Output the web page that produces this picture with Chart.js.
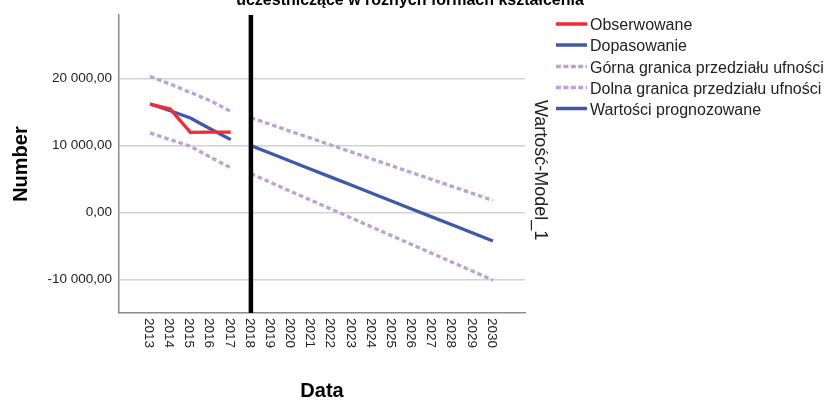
<!DOCTYPE html>
<html>
<head>
<meta charset="utf-8">
<script src="https://cdn.jsdelivr.net/npm/chart.js@4/dist/chart.umd.min.js"></script>
<style>
  html, body { margin: 0; padding: 0; background: #ffffff; }
  #wrap { width: 828px; height: 401px; position: relative; }
</style>
</head>
<body>
<div id="wrap"><canvas id="c" width="828" height="401"></canvas></div>
<script>
// ---- data ----
const fitYears = [2013, 2014, 2015, 2016, 2017];
const observed = [16200, 15450, 11980, 12000, 12000];
const fitted = [16200, 15200, 14120, 12480, 10890];
const fitUpper = [20330, 19170, 17920, 16690, 15100];
const fitLower = [11890, 10890, 9900, 8260, 6690];

const forecastYears = [2018, 2019, 2020, 2021, 2022, 2023, 2024, 2025, 2026, 2027, 2028, 2029, 2030];
const forecast = [10000, 8820, 7630, 6450, 5260, 4080, 2890, 1710, 520, -660, -1850, -3030, -4220];
const forecastUpper = [14160, 13130, 12100, 11080, 10050, 9030, 8000, 6970, 5950, 4920, 3890, 2860, 1830];
const forecastLower = [5800, 4480, 3150, 1830, 510, -820, -2140, -3460, -4780, -6100, -7420, -8740, -10060];

const xTickLabels = ['2013','2014','2015','2016','2017','2018','2019','2020','2021','2022','2023','2024','2025','2026','2027','2028','2029','2030'];
const yTickValues = [-10000, 0, 10000, 20000];
const forecastStart = 2018;

const legendLabels = ['Obserwowane', 'Dopasowanie', 'Górna granica przedziału ufności', 'Dolna granica przedziału ufności', 'Wartości prognozowane'];
const titleText = 'uczestniczące w różnych formach kształcenia';
const xTitle = 'Data';
const yTitle = 'Number';
const rightTitle = 'Wartość-Model_1';

// ---- styles ----
const FONT = '"Liberation Sans", Arial, sans-serif';
const RED = '#ee2d36';
const BLUE = '#3f58a8';
const PURPLE = '#bba1d4';
const DASH = [4.5, 3];

function xy(xs, ys) { return xs.map((x, i) => ({ x: x, y: ys[i] })); }

function fmt(v) {
  const neg = v < 0;
  const s = Math.abs(Math.round(v)).toString().replace(/\B(?=(\d{3})+(?!\d))/g, ' ');
  return (neg ? '-' : '') + s + ',00';
}

const solid = (color) => ({ borderColor: color, backgroundColor: color, borderWidth: 3.3, pointRadius: 0, tension: 0, fill: false, borderCapStyle: 'butt' });
const dotted = () => ({ borderColor: PURPLE, backgroundColor: PURPLE, borderWidth: 3.3, borderDash: DASH, pointRadius: 0, tension: 0, fill: false, borderCapStyle: 'butt' });

const datasets = [
  Object.assign({ label: legendLabels[2], data: xy(fitYears, fitUpper) }, dotted()),
  Object.assign({ label: legendLabels[3], data: xy(fitYears, fitLower) }, dotted()),
  Object.assign({ label: legendLabels[2], data: xy(forecastYears, forecastUpper) }, dotted()),
  Object.assign({ label: legendLabels[3], data: xy(forecastYears, forecastLower) }, dotted()),
  Object.assign({ label: legendLabels[0], data: xy(fitYears, observed) }, solid(RED)),
  Object.assign({ label: legendLabels[1], data: xy(fitYears, fitted) }, solid(BLUE)),
  Object.assign({ label: legendLabels[4], data: xy(forecastYears, forecast) }, solid(BLUE)),
];

const legendItems = [
  { text: legendLabels[0], color: RED, dash: [] },
  { text: legendLabels[1], color: BLUE, dash: [] },
  { text: legendLabels[2], color: PURPLE, dash: [5, 2.4] },
  { text: legendLabels[3], color: PURPLE, dash: [5, 2.4] },
  { text: legendLabels[4], color: BLUE, dash: [] },
];

const decor = {
  id: 'decor',
  afterDatasetsDraw(chart) {
    const ctx = chart.ctx;
    const xs = chart.scales.x;
    const area = chart.chartArea;
    const bx = xs.getPixelForValue(forecastStart);
    ctx.save();
    ctx.strokeStyle = '#000000';
    ctx.lineWidth = 4.5;
    ctx.beginPath();
    ctx.moveTo(bx, area.top);
    ctx.lineTo(bx, area.bottom);
    ctx.stroke();
    ctx.restore();
  },
  afterDraw(chart) {
    const ctx = chart.ctx;
    const xs = chart.scales.x;
    const area = chart.chartArea;
    ctx.save();
    // x tick labels, rotated clockwise
    ctx.fillStyle = '#222222';
    ctx.font = '13.5px ' + FONT;
    ctx.textAlign = 'left';
    ctx.textBaseline = 'middle';
    xTickLabels.forEach(lbl => {
      const px = xs.getPixelForValue(Number(lbl));
      ctx.save();
      ctx.translate(px - 1.5, area.bottom + 5);
      ctx.rotate(Math.PI / 2);
      ctx.fillText(lbl, 0, 0);
      ctx.restore();
    });
    // x title
    ctx.fillStyle = '#000000';
    ctx.font = 'bold 20px ' + FONT;
    ctx.textAlign = 'center';
    ctx.textBaseline = 'middle';
    ctx.fillText(xTitle, (area.left + area.right) / 2, 391);
    // y title
    ctx.save();
    ctx.translate(21, (area.top + area.bottom) / 2);
    ctx.rotate(-Math.PI / 2);
    ctx.fillText(yTitle, 0, 0);
    ctx.restore();
    // right rotated title
    ctx.save();
    ctx.fillStyle = '#222222';
    ctx.font = '18px ' + FONT;
    ctx.textAlign = 'left';
    ctx.translate(540, 100);
    ctx.rotate(Math.PI / 2);
    ctx.fillText(rightTitle, 0, 0);
    ctx.restore();
    // top title (second line, partly outside the picture)
    ctx.fillStyle = '#000000';
    ctx.font = 'bold 16px ' + FONT;
    ctx.textAlign = 'center';
    ctx.textBaseline = 'alphabetic';
    ctx.fillText(titleText, 410, 5);
    // legend
    const rowY = [24, 45, 66.5, 87.5, 108.5];
    ctx.font = '16px ' + FONT;
    ctx.textAlign = 'left';
    ctx.textBaseline = 'middle';
    legendItems.forEach((it, i) => {
      const y = rowY[i];
      ctx.save();
      ctx.strokeStyle = it.color;
      ctx.lineWidth = 3.5;
      ctx.setLineDash(it.dash);
      ctx.beginPath();
      ctx.moveTo(556, y);
      ctx.lineTo(587, y);
      ctx.stroke();
      ctx.restore();
      ctx.fillStyle = '#222222';
      ctx.fillText(it.text, 590, y + 2);
    });
    ctx.restore();
  }
};

new Chart(document.getElementById('c'), {
  type: 'line',
  data: { datasets: datasets },
  options: {
    responsive: false,
    animation: false,
    events: [],
    layout: { padding: { left: 0, top: 14, right: 303, bottom: 0 } },
    plugins: { legend: { display: false }, title: { display: false }, tooltip: { enabled: false } },
    scales: {
      x: {
        type: 'linear',
        min: 2011.46,
        max: 2031.59,
        grid: { display: false, drawTicks: false },
        border: { display: true, color: '#8c8c8c', width: 1.5 },
        ticks: { display: false },
        afterFit(scale) { scale.height = 88; }
      },
      y: {
        type: 'linear',
        min: -14960,
        max: 29460,
        afterBuildTicks(scale) { scale.ticks = yTickValues.map(v => ({ value: v })); },
        grid: { color: '#d2d2d2', lineWidth: 1.5, drawTicks: false },
        border: { display: true, color: '#8c8c8c', width: 1.5 },
        ticks: {
          padding: 7,
          color: '#222222',
          font: { family: FONT, size: 13.5 },
          callback: (v) => fmt(v)
        },
        afterFit(scale) { scale.width = 119; }
      }
    }
  },
  plugins: [decor]
});
</script>
</body>
</html>
